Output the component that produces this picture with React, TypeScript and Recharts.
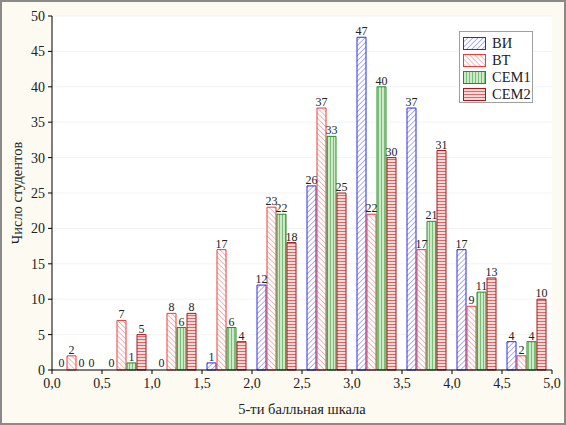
import React from 'react';
import { BarChart, Bar, XAxis, YAxis, CartesianGrid, LabelList, Legend, Cell } from 'recharts';

const groups = ['0.0-0.5', '0.5-1.0', '1.0-1.5', '1.5-2.0', '2.0-2.5', '2.5-3.0', '3.0-3.5', '3.5-4.0', '4.0-4.5', '4.5-5.0'];
const groupStarts = [0, 0.5, 1, 1.5, 2, 2.5, 3, 3.5, 4, 4.5];
const vi = [0, 0, 0, 1, 12, 26, 47, 37, 17, 4];
const vt = [2, 7, 8, 17, 23, 37, 22, 17, 9, 2];
const sem1 = [0, 1, 6, 6, 22, 33, 40, 21, 11, 4];
const sem2 = [0, 5, 8, 4, 18, 25, 30, 31, 13, 10];
const xTicks = [0, 0.5, 1, 1.5, 2, 2.5, 3, 3.5, 4, 4.5, 5];
const yTicks = [0, 5, 10, 15, 20, 25, 30, 35, 40, 45, 50];

const seriesNames = ['ВИ', 'ВТ', 'СЕМ1', 'СЕМ2'];

const data = groups.map((g, i) => ({ g, x0: groupStarts[i], vi: vi[i], vt: vt[i], sem1: sem1[i], sem2: sem2[i] }));

const series = [
  { key: 'vi', name: seriesNames[0], stroke: '#2a2ae6', pat: 'patVI', values: vi },
  { key: 'vt', name: seriesNames[1], stroke: '#ee3a3a', pat: 'patVT', values: vt },
  { key: 'sem1', name: seriesNames[2], stroke: '#2a8a2a', pat: 'patS1', values: sem1 },
  { key: 'sem2', name: seriesNames[3], stroke: '#a81818', pat: 'patS2', values: sem2 },
];

const FONT = '"Liberation Serif", "Times New Roman", serif';

const Patterns = () => (
  <defs>
    <pattern id="patVI" patternUnits="userSpaceOnUse" width="3.6" height="3.6" patternTransform="rotate(45)">
      <rect width="3.6" height="3.6" fill="#ffffff" />
      <line x1="0" y1="0" x2="0" y2="3.6" stroke="#6060f0" strokeWidth="1" />
    </pattern>
    <pattern id="patVT" patternUnits="userSpaceOnUse" width="3.6" height="3.6" patternTransform="rotate(-45)">
      <rect width="3.6" height="3.6" fill="#ffffff" />
      <line x1="0" y1="0" x2="0" y2="3.6" stroke="#f27070" strokeWidth="1" />
    </pattern>
    <pattern id="patS1" patternUnits="userSpaceOnUse" width="3" height="3">
      <rect width="3" height="3" fill="#cdeac6" />
      <line x1="0.5" y1="0" x2="0.5" y2="3" stroke="#70b870" strokeWidth="0.9" />
    </pattern>
    <pattern id="patS2" patternUnits="userSpaceOnUse" width="3" height="3">
      <rect width="3" height="3" fill="#f6d8d8" />
      <line x1="0" y1="0.5" x2="3" y2="0.5" stroke="#d06060" strokeWidth="0.9" />
    </pattern>
  </defs>
);

const fmt = (v: number) => v.toFixed(1).replace('.', ',');

const LegendContent = () => (
  <div
    style={{
      width: 74,
      height: 72,
      boxSizing: 'border-box',
      border: '1px solid #a0a0a0',
      background: '#ffffff',
      padding: '3px 0 0 3px',
      fontFamily: FONT,
      fontSize: 14.5,
      color: '#222',
    }}
  >
    {series.map((s) => (
      <div key={s.key} style={{ display: 'flex', alignItems: 'center', height: 17 }}>
        <svg width="23" height="13" style={{ marginRight: 6 }}>
          <Patterns />
          <rect x="0.5" y="0.5" width="22" height="12" fill={`url(#${s.pat})`} stroke={s.stroke} strokeWidth="1" />
        </svg>
        <span>{s.name}</span>
      </div>
    ))}
  </div>
);

export default function App() {
  return (
    <div style={{ position: 'absolute', left: 0, top: 0, width: 566, height: 425, background: '#fcfaf1' }}>
      <BarChart
        width={566}
        height={425}
        data={data}
        margin={{ top: 16, right: 14, bottom: 0, left: 12 }}
        barCategoryGap="10%"
        barGap={1}
      >
        <Patterns />
        <CartesianGrid vertical={false} horizontal stroke="#f3f3f3" fill="#ffffff" xAxisId="cat" yAxisId="left" />
        <XAxis xAxisId="cat" dataKey="g" hide height={0} orientation="top" />
        <XAxis
          xAxisId="num"
          dataKey="x0"
          type="number"
          domain={[0, 5]}
          ticks={xTicks}
          allowDataOverflow
          interval={0}
          tickFormatter={fmt}
          height={55}
          axisLine={{ stroke: '#000', strokeWidth: 1 }}
          tickLine={{ stroke: '#000' }}
          tickSize={4}
          tickMargin={4}
          tick={{ fill: '#222', fontSize: 14, fontFamily: FONT }}
          label={{ value: '5-ти балльная шкала', position: 'insideBottom', offset: 11, style: { fill: '#222', fontSize: 14.5, fontFamily: FONT } }}
        />
        <XAxis
          xAxisId="top"
          dataKey="x0"
          orientation="top"
          type="number"
          domain={[0, 5]}
          ticks={xTicks}
          allowDataOverflow
          height={0}
          tick={false}
          axisLine={{ stroke: '#000', strokeWidth: 1 }}
        />
        <YAxis
          yAxisId="left"
          domain={[0, 50]}
          ticks={yTicks}
          width={40}
          axisLine={{ stroke: '#000', strokeWidth: 1 }}
          tickLine={{ stroke: '#000' }}
          tickSize={4}
          tickMargin={3}
          tick={{ fill: '#222', fontSize: 14, fontFamily: FONT }}
          label={{ value: 'Число студентов', angle: -90, position: 'insideLeft', offset: 5, style: { fill: '#222', fontSize: 14.5, fontFamily: FONT, textAnchor: 'middle' } }}
        />
        <YAxis
          yAxisId="right"
          orientation="right"
          domain={[0, 50]}
          ticks={yTicks}
          width={0}
          tick={false}
          axisLine={{ stroke: '#000', strokeWidth: 1 }}
        />
        <Legend
          layout="vertical"
          align="center"
          verticalAlign="middle"
          content={<LegendContent />}
          wrapperStyle={{ position: 'absolute', left: 459, top: 31, width: 74, height: 72 }}
        />
        {series.map((s) => (
          <Bar
            key={s.key}
            dataKey={s.key}
            name={s.name}
            xAxisId="cat"
            yAxisId="left"
            fill={`url(#${s.pat})`}
            stroke={s.stroke}
            strokeWidth={1}
            minPointSize={1}
            isAnimationActive={false}
          >
            {s.values.map((v, i) => (
              <Cell
                key={i}
                fill={v === 0 ? 'none' : `url(#${s.pat})`}
                stroke={v === 0 ? 'none' : s.stroke}
              />
            ))}
            <LabelList dataKey={s.key} position="top" offset={2} style={{ fill: '#222', fontSize: 12, fontFamily: FONT }} />
          </Bar>
        ))}
      </BarChart>
      <div
        style={{
          position: 'absolute',
          left: 0,
          top: 0,
          width: 566,
          height: 425,
          boxSizing: 'border-box',
          border: '2px solid #8a8a8a',
          pointerEvents: 'none',
        }}
      />
    </div>
  );
}
